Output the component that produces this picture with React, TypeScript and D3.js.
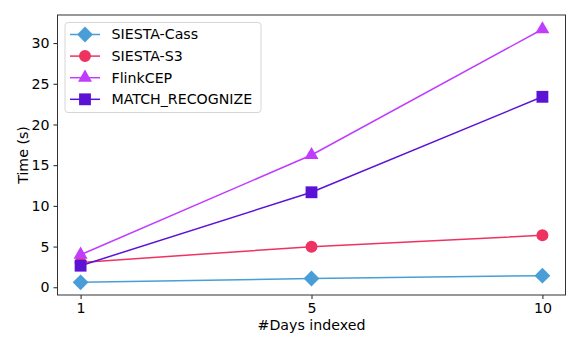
import { useEffect, useRef } from "react";
import * as d3 from "d3";

const days = ["1", "5", "10"];
const siestaCass = [0.61, 1.08, 1.42];
const siestaS3 = [3.05, 4.99, 6.38];
const flinkCEP = [4.0, 16.25, 31.7];
const matchRecognize = [2.65, 11.67, 23.4];
const yTicks = [0, 5, 10, 15, 20, 25, 30];

const seriesNames = ["SIESTA-Cass", "SIESTA-S3", "FlinkCEP", "MATCH_RECOGNIZE"];
const seriesColors = ["#4a9ed8", "#ef3360", "#c03cff", "#5b12d4"];

const App = () => {
  const svgRef = useRef<SVGSVGElement>(null);

  useEffect(() => {
    const svg = d3.select(svgRef.current);
    svg.selectAll("*").remove();
    const w = 581;
    const h = 349;
    const m = { left: 57.5, right: 15.5, top: 15, bottom: 54 };
    const font = "DejaVu Sans, sans-serif";
    const fs = 14.2;

    const allSeries = [siestaCass, siestaS3, flinkCEP, matchRecognize];
    const symbols = [d3.symbolSquare, d3.symbolCircle, d3.symbolTriangle, d3.symbolSquare];
    const symSizes = [125, 113, 85, 140];
    const rotations = [45, 0, 0, 0];

    const xScale = d3.scaleLinear().domain([-0.1, 2.1]).range([m.left, w - m.right]);
    const yScale = d3.scaleLinear().domain([-0.95, 33.45]).range([h - m.bottom, m.top]);

    const g = svg.append("g");

    // axes
    const xAxis = d3.axisBottom(xScale)
      .tickValues([0, 1, 2])
      .tickFormat((d) => days[d as number])
      .tickSize(4)
      .tickPadding(4);
    const xg = g.append("g").attr("transform", `translate(0,${h - m.bottom})`).call(xAxis);
    const yAxis = d3.axisLeft(yScale).tickValues(yTicks).tickSize(4).tickPadding(4);
    const yg = g.append("g").attr("transform", `translate(${m.left},0)`).call(yAxis);
    [xg, yg].forEach((a) => {
      a.select(".domain").remove();
      a.selectAll("text").attr("font-family", font).attr("font-size", fs).attr("fill", "#000");
      a.selectAll("line").attr("stroke", "#000").attr("stroke-width", 0.9);
    });

    const line = d3.line<number>()
      .x((d, i) => xScale(i))
      .y((d) => yScale(d));

    allSeries.forEach((vals, si) => {
      g.append("path")
        .attr("d", line(vals))
        .attr("fill", "none")
        .attr("stroke", seriesColors[si])
        .attr("stroke-width", 1.5);
    });
    allSeries.forEach((vals, si) => {
      g.selectAll(`.mk${si}`)
        .data(vals)
        .join("path")
        .attr("d", d3.symbol().type(symbols[si]).size(symSizes[si]))
        .attr("transform", (d, i) => `translate(${xScale(i)},${yScale(d)}) rotate(${rotations[si]})`)
        .attr("fill", seriesColors[si]);
    });

    // frame
    g.append("rect")
      .attr("x", m.left)
      .attr("y", m.top)
      .attr("width", w - m.left - m.right)
      .attr("height", h - m.top - m.bottom)
      .attr("fill", "none")
      .attr("stroke", "#333")
      .attr("stroke-width", 1);

    // labels
    g.append("text")
      .attr("x", (m.left + w - m.right) / 2)
      .attr("y", 330)
      .attr("text-anchor", "middle")
      .attr("font-family", font)
      .attr("font-size", fs)
      .text("#Days indexed");
    g.append("text")
      .attr("transform", `translate(28,${(m.top + h - m.bottom) / 2}) rotate(-90)`)
      .attr("text-anchor", "middle")
      .attr("font-family", font)
      .attr("font-size", fs)
      .text("Time (s)");

    // legend
    const lg = g.append("g").attr("transform", "translate(65,22.5)");
    lg.append("rect")
      .attr("width", 196)
      .attr("height", 90)
      .attr("rx", 3)
      .attr("fill", "#fff")
      .attr("fill-opacity", 0.8)
      .attr("stroke", "#d6d6d6");
    seriesNames.forEach((name, si) => {
      const y = 12 + si * 21.6;
      lg.append("line").attr("x1", 5).attr("x2", 35).attr("y1", y).attr("y2", y)
        .attr("stroke", seriesColors[si]).attr("stroke-width", 1.5);
      lg.append("path")
        .attr("d", d3.symbol().type(symbols[si]).size(symSizes[si])())
        .attr("transform", `translate(20,${y}) rotate(${rotations[si]})`)
        .attr("fill", seriesColors[si]);
      lg.append("text")
        .attr("x", 46.5)
        .attr("y", y)
        .attr("dy", "0.35em")
        .attr("font-family", font)
        .attr("font-size", fs)
        .text(name);
    });
  }, []);

  return (
    <div style={{ margin: -8 }}>
      <svg ref={svgRef} width={581} height={349} style={{ display: "block" }}></svg>
    </div>
  );
};

export default App;
